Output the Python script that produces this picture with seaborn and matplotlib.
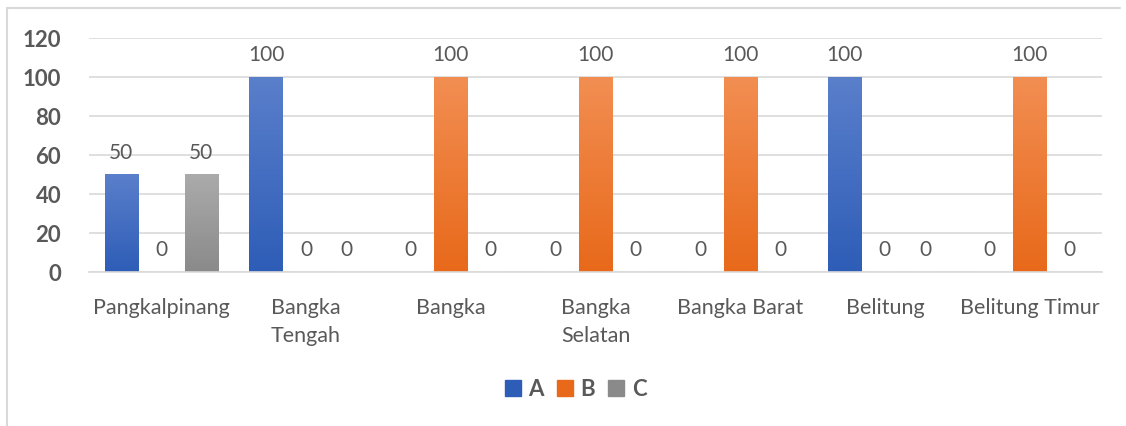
import numpy as np
import pandas as pd
import matplotlib
matplotlib.use("Agg")
import matplotlib.pyplot as plt
import seaborn as sns
from matplotlib.colors import LinearSegmentedColormap
from matplotlib.lines import Line2D

# data
categories = ["Pangkalpinang", "Bangka\nTengah", "Bangka", "Bangka\nSelatan",
              "Bangka Barat", "Belitung", "Belitung Timur"]
series_names = ["A", "B", "C"]
values_a = [50, 100, 0, 0, 0, 100, 0]
values_b = [0, 0, 100, 100, 100, 0, 100]
values_c = [50, 0, 0, 0, 0, 0, 0]
y_ticks = [0, 20, 40, 60, 80, 100, 120]

df = pd.DataFrame({
    "region": categories * 3,
    "series": ["A"] * 7 + ["B"] * 7 + ["C"] * 7,
    "value": values_a + values_b + values_c,
})

TEXT = "#595959"
GRID = "#D9D9D9"
colors = {"A": ("#5A7FCB", "#2E5DB7"),
          "B": ("#F28E52", "#E8691A"),
          "C": ("#ABABAB", "#8A8A8A")}
palette = {k: v[1] for k, v in colors.items()}

sns.set_theme(style="white")
plt.rcParams["font.family"] = ["Lato", "DejaVu Sans"]

fig = plt.figure(figsize=(11.26, 4.27), dpi=100)
ax = fig.add_axes([0.079, 0.3607, 0.8997, 0.548])

sns.barplot(data=df, x="region", y="value", hue="series", order=categories,
            hue_order=series_names, palette=palette, width=0.83, gap=0.175,
            legend=False, ax=ax, saturation=1)

# vertical gradient fill on each bar
grad = np.linspace(0, 1, 256).reshape(-1, 1)
for cont, name in zip(ax.containers, series_names):
    top, bottom = colors[name]
    cmap = LinearSegmentedColormap.from_list(name, [bottom, top])
    for bar in cont:
        h = bar.get_height()
        if h <= 0:
            continue
        x0 = bar.get_x()
        w = bar.get_width()
        ax.imshow(grad, cmap=cmap, origin="lower", aspect="auto",
                  extent=[x0, x0 + w, 0, h], zorder=2)
        bar.set_alpha(0)
    ax.bar_label(cont, fmt="%g", padding=9, fontsize=15, color=TEXT)

ax.set_xlim(-0.5, 6.5)
ax.set_ylim(0, 120)
ax.set_yticks(y_ticks)
ax.yaxis.grid(True, color=GRID, linewidth=1.2)
ax.set_axisbelow(True)
for s in ["top", "right", "left"]:
    ax.spines[s].set_visible(False)
ax.spines["bottom"].set_color(GRID)
ax.spines["bottom"].set_linewidth(1.2)
ax.tick_params(axis="y", length=0, pad=20, labelsize=16, labelcolor=TEXT)
ax.tick_params(axis="x", length=0, pad=18, labelsize=15.5, labelcolor=TEXT)
for t in ax.get_yticklabels():
    t.set_fontweight("bold")
for t in ax.get_xticklabels():
    t.set_linespacing(1.5)
ax.set_xlabel("")
ax.set_ylabel("")

# legend
handles = [Line2D([], [], marker="s", linestyle="", markersize=11,
                  markerfacecolor=colors[n][1], markeredgecolor=colors[n][1])
           for n in series_names]
leg = fig.legend(handles, series_names, loc="center", bbox_to_anchor=(0.511, 0.087),
                 ncol=3, frameon=False, handlelength=0.8, handletextpad=0.3,
                 columnspacing=0.55, prop={"weight": "bold", "size": 16})
for t in leg.get_texts():
    t.set_color(TEXT)

# chart frame (left and top edges visible)
fig.add_artist(Line2D([0.0062, 0.0062], [0, 0.979], color=GRID, linewidth=1.5))
fig.add_artist(Line2D([0.0062, 0.995], [0.979, 0.979], color=GRID, linewidth=1.5))

fig.savefig("out.png", dpi=100)
